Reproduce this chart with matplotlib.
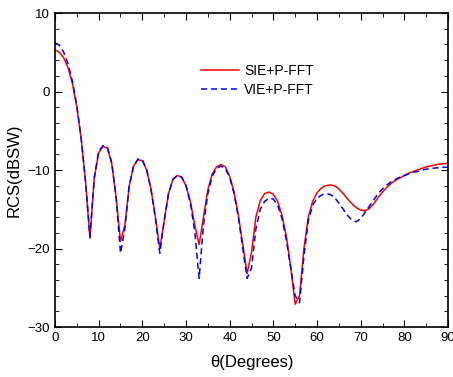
import numpy as np
import matplotlib
matplotlib.use("Agg")
import matplotlib.pyplot as plt
from matplotlib.ticker import MultipleLocator

plt.rcParams['font.family'] = ['Liberation Sans', 'DejaVu Sans']

# Data
theta = list(range(0, 91))

rcs_sie = [5.3, 5.0, 4.3, 3.0, 1.0, -2.0, -6.0, -11.5, -18.7, -11.0,
           -7.8, -7.0, -7.2, -9.2, -13.5, -19.1, -17.0, -12.0, -9.5, -8.7,
           -8.8, -10.0, -12.5, -16.0, -20.0, -16.5, -13.0, -11.2, -10.7, -10.9,
           -12.0, -14.0, -17.0, -19.5, -16.0, -12.5, -10.5, -9.6, -9.3, -9.6,
           -10.8, -12.8, -15.8, -19.5, -23.2, -20.5, -16.0, -13.9, -13.0, -12.8,
           -13.1, -14.0, -15.8, -18.5, -22.5, -27.1, -26.0, -20.0, -16.0, -14.0,
           -12.9, -12.3, -12.0, -11.9, -12.0, -12.4, -13.0, -13.7, -14.3, -14.8,
           -15.1, -15.2, -14.9, -14.3, -13.5, -12.8, -12.2, -11.7, -11.3, -11.0,
           -10.7, -10.4, -10.2, -10.0, -9.8, -9.6, -9.5, -9.35, -9.25, -9.2,
           -9.15]

rcs_vie = [6.2, 5.9, 5.0, 3.5, 1.3, -1.8, -6.0, -11.5, -18.5, -11.0,
           -7.6, -6.9, -7.1, -9.1, -13.5, -20.6, -17.5, -12.0, -9.5, -8.6,
           -8.7, -10.0, -12.5, -16.2, -20.6, -16.5, -13.0, -11.2, -10.7, -10.9,
           -12.0, -14.2, -17.8, -23.8, -17.0, -13.0, -10.8, -9.8, -9.5, -9.8,
           -10.9, -13.0, -16.0, -20.0, -23.8, -22.5, -17.5, -15.0, -14.0, -13.6,
           -13.7, -14.5, -16.2, -19.0, -22.5, -26.0, -26.9, -21.0, -16.5, -14.5,
           -13.6, -13.2, -13.0, -13.1, -13.5, -14.2, -15.0, -15.8, -16.4, -16.6,
           -16.2, -15.4, -14.6, -13.8, -13.0, -12.4, -11.9, -11.5, -11.2, -10.9,
           -10.7, -10.5, -10.3, -10.2, -10.0, -9.9, -9.8, -9.75, -9.7, -9.65,
           -9.65]

fig = plt.figure(figsize=(4.53, 3.77), dpi=100)
ax = fig.add_axes([0.1214, 0.1326, 0.8676, 0.8329])

ax.plot(theta, rcs_sie, color='red', lw=1.1, label='SIE+P-FFT')
ax.plot(theta, rcs_vie, color='blue', lw=1.1, ls=(0, (4, 2.5)), label='VIE+P-FFT')

ax.set_xlim(0, 90)
ax.set_ylim(-30, 10)
ax.xaxis.set_major_locator(MultipleLocator(10))
ax.xaxis.set_minor_locator(MultipleLocator(5))
ax.yaxis.set_major_locator(MultipleLocator(10))
ax.yaxis.set_minor_locator(MultipleLocator(2))
ax.tick_params(which='both', direction='in', top=True, right=True, labelsize=9.5)
ax.tick_params(which='major', length=5)
ax.tick_params(which='minor', length=3)
for s in ax.spines.values():
    s.set_linewidth(1.2)

ax.set_xlabel('θ(Degrees)', fontsize=12, labelpad=8)
ax.set_ylabel('RCS(dBSW)', fontsize=12)

ax.legend(loc='upper left', bbox_to_anchor=(0.444, 0.83), bbox_transform=fig.transFigure,
          frameon=False, fontsize=10, handlelength=2.7, handletextpad=0.4,
          labelspacing=0.33, borderpad=0, borderaxespad=0)

fig.savefig('out.png', dpi=100)
